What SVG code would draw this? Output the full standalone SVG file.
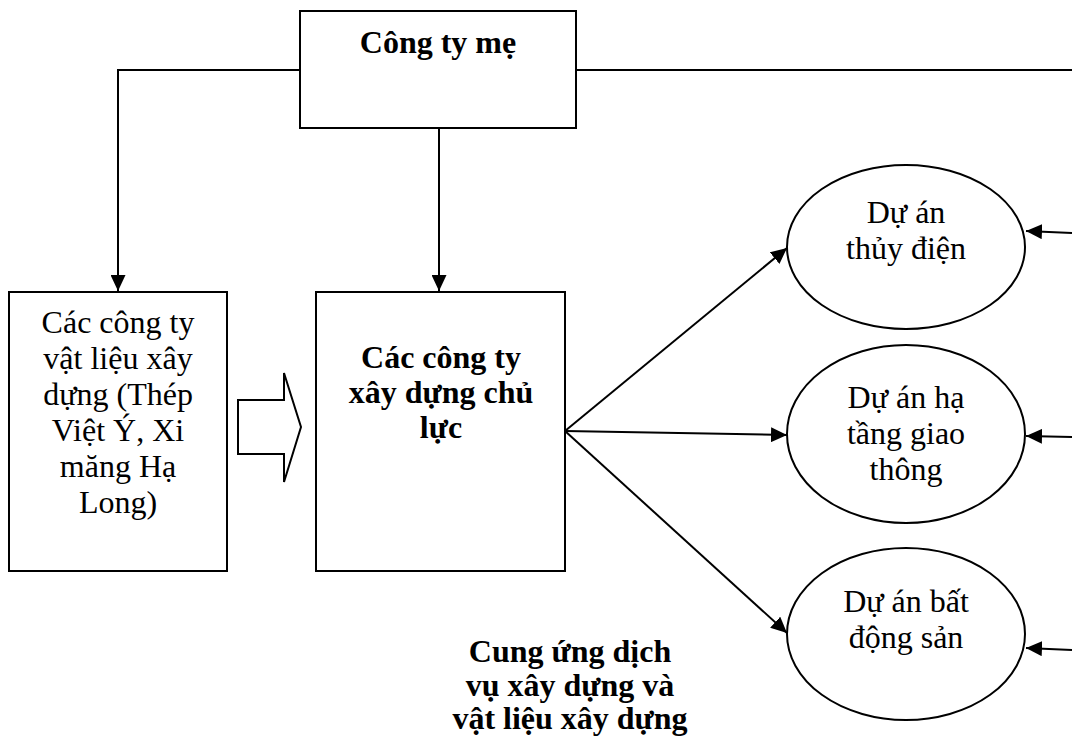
<svg xmlns="http://www.w3.org/2000/svg" width="1072" height="736" viewBox="0 0 1072 736">
  <style>
    .box { fill: #fff; stroke: #000; stroke-width: 2; }
    .link { fill: none; stroke: #000; stroke-width: 2; }
    .txt { font-family: "Liberation Serif", "Times New Roman", serif; font-size: 32px; fill: #000; text-anchor: middle; }
    .bold { font-weight: bold; }
  </style>
  <defs>
    <marker id="arrow" markerUnits="userSpaceOnUse" markerWidth="16" markerHeight="15" refX="16" refY="7.5" orient="auto">
      <path d="M0,0 L16,7.5 L0,15 z" fill="#000"/>
    </marker>
  </defs>
  <rect width="1072" height="736" fill="#fff"/>

  <!-- connectors -->
  <g id="connectors">
    <polyline class="link" points="300,70 118,70 118,291" marker-end="url(#arrow)"/>
    <line class="link" x1="439" y1="128" x2="439" y2="291" marker-end="url(#arrow)"/>
    <line class="link" x1="576" y1="70" x2="1072" y2="70"/>
    <line class="link" x1="565" y1="431" x2="787" y2="248" marker-end="url(#arrow)"/>
    <line class="link" x1="565" y1="431" x2="787" y2="435" marker-end="url(#arrow)"/>
    <line class="link" x1="565" y1="431" x2="787" y2="633" marker-end="url(#arrow)"/>
    <line class="link" x1="1072" y1="233" x2="1026" y2="231" marker-end="url(#arrow)"/>
    <line class="link" x1="1072" y1="437" x2="1026" y2="436" marker-end="url(#arrow)"/>
    <line class="link" x1="1072" y1="650" x2="1026" y2="648" marker-end="url(#arrow)"/>
    <!-- hollow block arrow between supplier and builder boxes -->
    <path class="box" d="M238,400 L284,400 L284,373 L301,427 L284,482 L284,454 L238,454 z"/>
  </g>

  <g id="cong-ty-me">
    <rect class="box" x="300" y="11" width="276" height="117"/>
    <text class="txt bold" x="438" y="53">Công ty mẹ</text>
  </g>

  <g id="vat-lieu">
    <rect class="box" x="9" y="292" width="218" height="279"/>
    <text class="txt" x="118" y="333">Các công ty</text>
    <text class="txt" x="118" y="369">vật liệu xây</text>
    <text class="txt" x="118" y="405">dựng (Thép</text>
    <text class="txt" x="118" y="441">Việt Ý, Xi</text>
    <text class="txt" x="118" y="477">măng Hạ</text>
    <text class="txt" x="118" y="513">Long)</text>
  </g>

  <g id="xay-dung">
    <rect class="box" x="316" y="292" width="249" height="279"/>
    <text class="txt bold" x="441" y="368">Các công ty</text>
    <text class="txt bold" x="441" y="403">xây dựng chủ</text>
    <text class="txt bold" x="441" y="438">lực</text>
  </g>

  <g id="thuy-dien">
    <ellipse class="box" cx="906" cy="247" rx="119" ry="82"/>
    <text class="txt" x="906" y="223">Dự án</text>
    <text class="txt" x="906" y="259">thủy điện</text>
  </g>

  <g id="ha-tang">
    <ellipse class="box" cx="906" cy="434" rx="119" ry="89"/>
    <text class="txt" x="906" y="408">Dự án hạ</text>
    <text class="txt" x="906" y="444">tầng giao</text>
    <text class="txt" x="906" y="480">thông</text>
  </g>

  <g id="bat-dong-san">
    <ellipse class="box" cx="906" cy="634" rx="119" ry="86"/>
    <text class="txt" x="906" y="612">Dự án bất</text>
    <text class="txt" x="906" y="648">động sản</text>
  </g>

  <g id="cung-ung">
    <text class="txt bold" x="570" y="662">Cung ứng dịch</text>
    <text class="txt bold" x="570" y="696">vụ xây dựng và</text>
    <text class="txt bold" x="570" y="729">vật liệu xây dựng</text>
  </g>
</svg>
